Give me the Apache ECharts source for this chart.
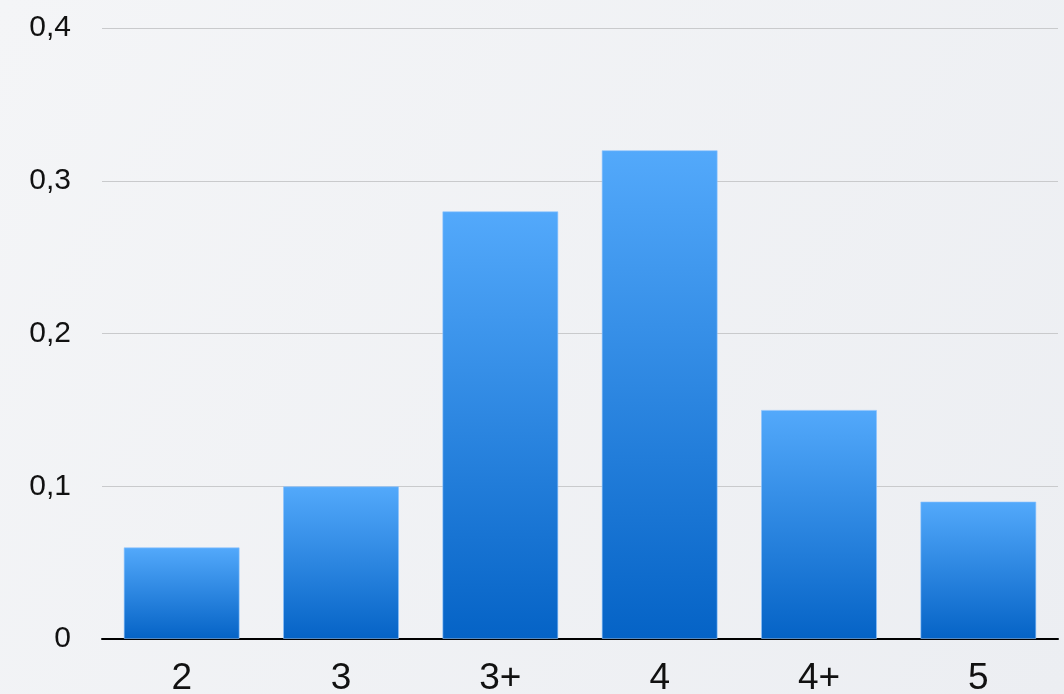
<!DOCTYPE html>
<html>
<head>
<meta charset="utf-8">
<script src="https://cdn.jsdelivr.net/npm/echarts@6/dist/echarts.min.js"></script>
<style>
  html, body { margin: 0; padding: 0; }
  #chart { width: 1064px; height: 694px; }
</style>
</head>
<body>
<div id="chart"></div>
<script>
// Grade categories and their shares
const categories = ['2', '3', '3+', '4', '4+', '5'];
const shares = [0.06, 0.10, 0.28, 0.32, 0.15, 0.09];
const yTicks = [0, 0.1, 0.2, 0.3, 0.4];

const chart = echarts.init(document.getElementById('chart'));

const fmt = v => (v === 0 ? '0' : v.toFixed(1).replace('.', ','));

chart.setOption({
  animation: false,
  backgroundColor: new echarts.graphic.LinearGradient(0, 0, 1, 1, [
    { offset: 0, color: '#f4f5f7' },
    { offset: 1, color: '#eceef2' }
  ]),
  grid: {
    left: 102, right: 6, top: 28, bottom: 55,
    containLabel: false,
    outerBoundsMode: 'none'
  },
  xAxis: {
    type: 'category',
    data: categories,
    axisLine: { show: true, lineStyle: { color: '#000', width: 2 } },
    axisTick: { show: false },
    axisLabel: {
      margin: 21,
      fontSize: 37,
      color: '#111',
      fontFamily: 'Liberation Sans, Arial, sans-serif'
    }
  },
  yAxis: {
    type: 'value',
    min: yTicks[0],
    max: yTicks[yTicks.length - 1],
    interval: 0.1,
    axisLine: { show: false },
    axisTick: { show: false },
    splitLine: { lineStyle: { color: '#c9cacc', width: 1 } },
    axisLabel: {
      margin: 31,
      fontSize: 30,
      color: '#111',
      fontFamily: 'Liberation Sans, Arial, sans-serif',
      formatter: fmt
    }
  },
  series: [{
    type: 'bar',
    data: shares,
    barWidth: 116,
    itemStyle: {
      color: new echarts.graphic.LinearGradient(0, 0, 0, 1, [
        { offset: 0, color: '#53a9fb' },
        { offset: 1, color: '#0563c6' }
      ]),
      borderColor: 'rgba(140,195,255,0.6)',
      borderWidth: 1
    }
  }]
});
</script>
</body>
</html>
